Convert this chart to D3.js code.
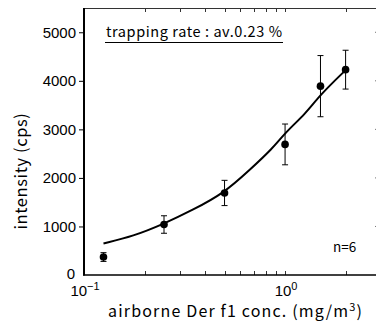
<!DOCTYPE html>
<html>
<head>
<meta charset="utf-8">
<script src="https://cdn.jsdelivr.net/npm/d3@7"></script>
<style>
  body { margin: 0; background: #fff; }
  svg { display: block; }
  .tick-lbl { font-family: "Liberation Sans", Arial, sans-serif; font-size: 15px; fill: #000; }
  .gothic { font-family: "Noto Sans CJK JP", "DejaVu Sans", sans-serif; fill: #000; }
</style>
</head>
<body>
<div id="chart"></div>
<script>
// measured points (mean +- sd)
const concs = [0.125, 0.25, 0.5, 1.0, 1.5, 2.0];
const intensity = [370, 1040, 1690, 2690, 3890, 4230];
const errors = [90, 180, 260, 420, 630, 400];

// fitted curve
const fitX = [0.125, 0.176, 0.247, 0.348, 0.5, 0.665, 0.867, 1.0, 1.27, 1.485, 2.0];
const fitY = [650, 800, 1045, 1340, 1695, 2160, 2605, 2930, 3330, 3700, 4220];

const yTicks = [1000, 2000, 3000, 4000, 5000];
const xMinor = [0.2, 0.3, 0.4, 0.5, 0.6, 0.7, 0.8, 0.9, 1, 2];

const width = 376, height = 334;
const margin = { top: 8, right: -5, bottom: 59, left: 84 };

const svg = d3.select('#chart').append('svg')
  .attr('width', width)
  .attr('height', height);

const x = d3.scaleLog()
  .domain([0.1, 3])
  .range([margin.left, width - margin.right]);

const y = d3.scaleLinear()
  .domain([0, 5500])
  .range([height - margin.bottom, margin.top]);

const x0 = x.range()[0], x1 = x.range()[1];
const y0 = y.range()[0], y1 = y.range()[1];

// frame: top & right thin, left & bottom heavier
svg.append('line').attr('x1', x0).attr('x2', x1).attr('y1', y1 + 0.5).attr('y2', y1 + 0.5)
  .attr('stroke', '#333').attr('stroke-width', 1);
svg.append('line').attr('x1', x1).attr('x2', x1).attr('y1', y1).attr('y2', y0)
  .attr('stroke', '#333').attr('stroke-width', 1);

// left axis (outward ticks)
const yAxis = d3.axisLeft(y).tickValues(yTicks).tickSize(5).tickPadding(3)
  .tickFormat(d3.format('d'));
const gy = svg.append('g').attr('transform', 'translate(' + x0 + ',0)').call(yAxis);
gy.select('.domain').remove();
gy.selectAll('.tick line').attr('stroke', '#000');
gy.selectAll('.tick text').attr('class', 'tick-lbl').attr('font-size', null).attr('font-family', null);

// right axis ticks (inward)
svg.append('g').selectAll('line').data(yTicks).join('line')
  .attr('x1', x1).attr('x2', x1 - 6)
  .attr('y1', d => y(d)).attr('y2', d => y(d))
  .attr('stroke', '#777').attr('stroke-width', 1);

// top and bottom inward ticks
svg.append('g').selectAll('line').data(xMinor).join('line')
  .attr('x1', d => Math.round(x(d)) + 0.5).attr('x2', d => Math.round(x(d)) + 0.5)
  .attr('y1', y1).attr('y2', y1 + 4)
  .attr('stroke', '#333').attr('stroke-width', 1);
svg.append('g').selectAll('line').data(xMinor).join('line')
  .attr('x1', d => Math.round(x(d)) + 0.5).attr('x2', d => Math.round(x(d)) + 0.5)
  .attr('y1', y0).attr('y2', y0 - 4)
  .attr('stroke', '#333').attr('stroke-width', 1);

svg.append('line').attr('x1', x0).attr('x2', x0).attr('y1', y1).attr('y2', y0 + 0.5)
  .attr('stroke', '#000').attr('stroke-width', 2);
svg.append('line').attr('x1', x0 - 1).attr('x2', x1).attr('y1', y0).attr('y2', y0)
  .attr('stroke', '#000').attr('stroke-width', 1.5);

// zero label
svg.append('text').attr('class', 'tick-lbl')
  .attr('x', x0 - 9).attr('y', y0 + 4).attr('text-anchor', 'end')
  .text('0');

// decade labels
const decades = [{ v: 0.1, e: '\u22121' }, { v: 1, e: '0' }];
decades.forEach(function (d) {
  const t = svg.append('text').attr('class', 'tick-lbl')
    .attr('x', x(d.v) + 1).attr('y', y0 + 21).attr('text-anchor', 'middle');
  t.append('tspan').text('10');
  t.append('tspan').attr('dy', -6).attr('font-size', 11).text(d.e);
});

// fitted curve
const line = d3.line()
  .x((d, i) => x(fitX[i]))
  .y(d => y(d))
  .curve(d3.curveBasis);
svg.append('path')
  .datum(fitY)
  .attr('d', line)
  .attr('fill', 'none')
  .attr('stroke', '#000')
  .attr('stroke-width', 2);

// error bars
const pts = concs.map((c, i) => ({ c: c, v: intensity[i], e: errors[i] }));
const eb = svg.append('g').attr('stroke', '#000').attr('stroke-width', 1);
eb.selectAll('.v').data(pts).join('line')
  .attr('x1', d => x(d.c)).attr('x2', d => x(d.c))
  .attr('y1', d => y(d.v - d.e)).attr('y2', d => y(d.v + d.e));
eb.selectAll('.t').data(pts).join('line')
  .attr('x1', d => x(d.c) - 3).attr('x2', d => x(d.c) + 3)
  .attr('y1', d => y(d.v + d.e)).attr('y2', d => y(d.v + d.e));
eb.selectAll('.b').data(pts).join('line')
  .attr('x1', d => x(d.c) - 3).attr('x2', d => x(d.c) + 3)
  .attr('y1', d => y(d.v - d.e)).attr('y2', d => y(d.v - d.e));

svg.append('g').selectAll('circle').data(pts).join('circle')
  .attr('cx', d => x(d.c)).attr('cy', d => y(d.v))
  .attr('r', 3.8).attr('fill', '#000');

// annotations
svg.append('text').attr('class', 'gothic')
  .attr('x', 106).attr('y', 37).attr('font-size', 14.5)
  .attr('textLength', 176).attr('lengthAdjust', 'spacing')
  .text('trapping rate : av.0.23 %');
svg.append('line').attr('x1', 105).attr('x2', 283).attr('y1', 42.5).attr('y2', 42.5)
  .attr('stroke', '#000').attr('stroke-width', 1);

svg.append('text').attr('class', 'gothic')
  .attr('x', 333).attr('y', 252).attr('font-size', 13.5)
  .text('n=6');

// axis titles
const xt = svg.append('text').attr('class', 'gothic')
  .attr('x', 108).attr('y', 317).attr('font-size', 16)
  .attr('textLength', 254).attr('lengthAdjust', 'spacing');
xt.append('tspan').text('airborne Der f1 conc. (mg/m');
xt.append('tspan').attr('dy', -6).attr('font-size', 11).text('3');
xt.append('tspan').attr('dy', 6).text(')');

svg.append('text').attr('class', 'gothic')
  .attr('transform', 'translate(27,171) rotate(-90)')
  .attr('font-size', 16.5).attr('text-anchor', 'middle')
  .attr('letter-spacing', 0.6)
  .text('intensity (cps)');
</script>
</body>
</html>
